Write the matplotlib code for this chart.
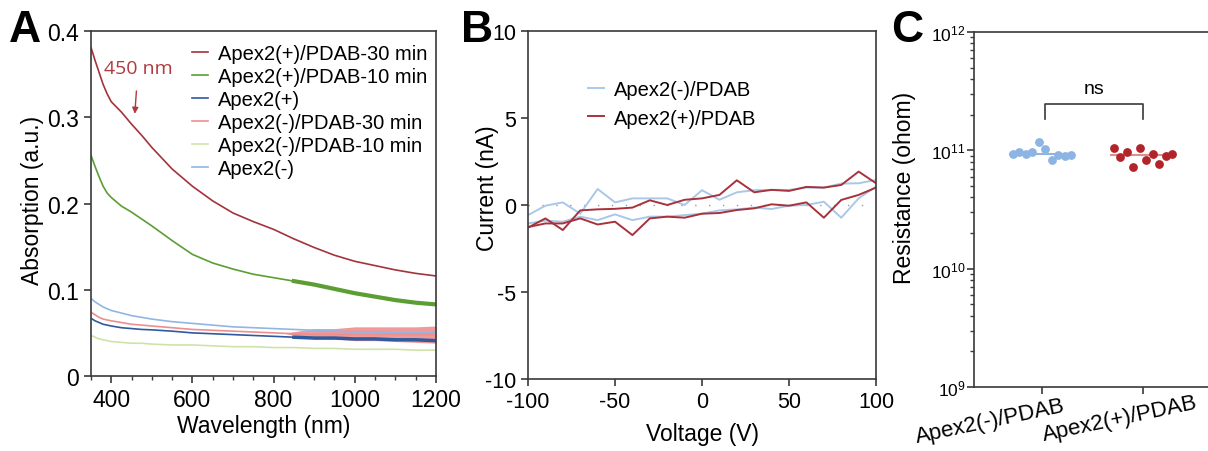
import numpy as np
import matplotlib
matplotlib.use("Agg")
import matplotlib.pyplot as plt
import matplotlib.transforms as mtransforms
from matplotlib.ticker import FixedLocator, LogLocator, NullFormatter

plt.rcParams["font.family"] = ["Liberation Sans", "DejaVu Sans"]
plt.rcParams["mathtext.fontset"] = "custom"
plt.rcParams["mathtext.rm"] = "Liberation Sans"
plt.rcParams["mathtext.it"] = "Liberation Sans"
plt.rcParams["axes.unicode_minus"] = False

# ---------- panel A data : absorption spectra ----------
wavelength = [350, 360, 370, 380, 390, 400, 425, 450, 475, 500, 550, 600, 650, 700,
              750, 800, 850, 900, 950, 1000, 1050, 1100, 1150, 1200]
pos_pdab_30 = [0.381, 0.366, 0.352, 0.338, 0.327, 0.318, 0.306, 0.292, 0.279, 0.265,
               0.240, 0.220, 0.203, 0.189, 0.179, 0.170, 0.159, 0.149, 0.140, 0.133,
               0.128, 0.123, 0.119, 0.116]
pos_pdab_10 = [0.256, 0.243, 0.231, 0.220, 0.212, 0.207, 0.197, 0.190, 0.182, 0.174,
               0.157, 0.141, 0.131, 0.124, 0.118, 0.114, 0.110, 0.106, 0.101, 0.096,
               0.092, 0.088, 0.085, 0.083]
pos_only = [0.067, 0.064, 0.062, 0.060, 0.059, 0.058, 0.056, 0.055, 0.054, 0.0535,
            0.052, 0.050, 0.049, 0.048, 0.047, 0.046, 0.045, 0.044, 0.044, 0.043,
            0.043, 0.042, 0.042, 0.041]
neg_pdab_30 = [0.074, 0.071, 0.068, 0.066, 0.065, 0.064, 0.062, 0.060, 0.059, 0.058,
               0.056, 0.054, 0.053, 0.052, 0.051, 0.050, 0.049, 0.048, 0.048, 0.048,
               0.048, 0.048, 0.048, 0.048]
neg_pdab_10 = [0.047, 0.045, 0.043, 0.042, 0.041, 0.040, 0.039, 0.038, 0.038, 0.037,
               0.036, 0.036, 0.035, 0.034, 0.034, 0.033, 0.033, 0.032, 0.032, 0.031,
               0.031, 0.031, 0.030, 0.030]
neg_only = [0.090, 0.086, 0.083, 0.080, 0.078, 0.076, 0.073, 0.070, 0.068, 0.066,
            0.063, 0.061, 0.059, 0.057, 0.056, 0.055, 0.054, 0.053, 0.052, 0.051,
            0.051, 0.050, 0.050, 0.050]
# noisy tail of the Apex2(-)/PDAB-30 min trace (envelope)
noise_wl = [830, 900, 950, 1000, 1050, 1100, 1150, 1200]
noise_lo = [0.049, 0.043, 0.043, 0.041, 0.041, 0.040, 0.039, 0.038]
noise_hi = [0.050, 0.055, 0.055, 0.057, 0.057, 0.057, 0.057, 0.058]

# ---------- panel B data : I-V sweeps ----------
voltage = [-100, -90, -80, -70, -60, -50, -40, -30, -20, -10, 0,
           10, 20, 30, 40, 50, 60, 70, 80, 90, 100]
neg_iv_up = [-0.58, -0.04, 0.15, -0.50, 0.92, 0.15, 0.38, 0.38, 0.38, 0.0, 0.85,
             0.30, 0.73, 0.85, 0.87, 0.87, 1.0, 1.0, 1.23, 1.25, 1.44]
neg_iv_down = [-1.06, -0.90, -0.96, -0.67, -0.87, -0.54, -0.87, -0.67, -0.67, -0.58, -0.50,
               -0.31, -0.25, -0.15, -0.23, -0.04, 0.0, 0.19, -0.73, 0.38, 1.06]
pos_iv_up = [-1.30, -0.77, -1.44, -0.31, -0.25, -0.22, -0.15, 0.27, 0.0, 0.30, 0.38,
             0.58, 1.42, 0.73, 0.87, 0.81, 1.04, 1.0, 1.15, 1.92, 1.25]
pos_iv_down = [-1.27, -1.06, -1.06, -0.77, -1.12, -0.96, -1.73, -0.77, -0.67, -0.73, -0.50,
               -0.46, -0.29, -0.19, 0.04, -0.04, 0.15, -0.73, 0.29, 0.58, 1.0]

# ---------- panel C data : resistance ----------
groups = ["Apex2(-)/PDAB", "Apex2(+)/PDAB"]
res_neg = [0.93e11, 0.97e11, 0.93e11, 0.96e11, 1.17e11, 1.03e11, 0.83e11, 0.91e11, 0.90e11, 0.91e11]
res_pos = [1.05e11, 0.88e11, 0.97e11, 0.73e11, 1.04e11, 0.83e11, 0.93e11, 0.77e11, 0.90e11, 0.94e11]

SPINE = "#3a3a3a"
LABEL_FS = 16.5

fig = plt.figure(figsize=(12.08, 4.52), dpi=100)


def style_axes(ax, tick_fs):
    for s in ax.spines.values():
        s.set_color(SPINE)
        s.set_linewidth(1.2)
    ax.tick_params(direction="out", colors=SPINE, labelcolor="black",
                   labelsize=tick_fs, width=1.2, length=5)
    ax.tick_params(which="minor", direction="out", colors=SPINE, width=1.0, length=3)


# ---------- A ----------
axA = fig.add_axes([0.0753, 0.1659, 0.2856, 0.7633])
style_axes(axA, 16.5)
wl = np.array(wavelength)
axA.plot(wl, pos_pdab_30, color="#a3343a", lw=1.2, label="Apex2(+)/PDAB-30 min")
axA.plot(wl, pos_pdab_10, color="#5c9e34", lw=1.2, label="Apex2(+)/PDAB-10 min")
tail = wl >= 850
axA.plot(wl[tail], np.array(pos_pdab_10)[tail], color="#5c9e34", lw=3.0)
axA.plot(wl, neg_only, color="#92b6e4", lw=1.2, label="Apex2(-)")
axA.plot(wl, neg_pdab_10, color="#cfe3a8", lw=1.2, label="Apex2(-)/PDAB-10 min")
axA.plot(wl, neg_pdab_30, color="#ee8e8e", lw=1.2, label="Apex2(-)/PDAB-30 min")
axA.fill_between(noise_wl, noise_lo, noise_hi, color="#ee8e8e", lw=0, alpha=0.9)
axA.plot(wl, pos_only, color="#2f5a9e", lw=1.2, label="Apex2(+)")
axA.plot(wl[tail], np.array(pos_only)[tail], color="#2f5a9e", lw=2.5)
axA.set_xlim(350, 1200)
axA.set_ylim(0, 0.4)
axA.set_xticks([400, 600, 800, 1000, 1200])
axA.xaxis.set_minor_locator(FixedLocator(np.arange(350, 1201, 50)))
axA.set_yticks([0, 0.1, 0.2, 0.3, 0.4])
axA.set_yticklabels(["0", "0.1", "0.2", "0.3", "0.4"])
axA.set_xlabel("Wavelength (nm)", fontsize=LABEL_FS, labelpad=2)
axA.set_ylabel("Absorption (a.u.)", fontsize=LABEL_FS)
axA.yaxis.set_label_coords(-0.136, 0.513)
h, l = axA.get_legend_handles_labels()
order = ["Apex2(+)/PDAB-30 min", "Apex2(+)/PDAB-10 min", "Apex2(+)",
         "Apex2(-)/PDAB-30 min", "Apex2(-)/PDAB-10 min", "Apex2(-)"]
hd = dict(zip(l, h))
axA.legend([hd[k] for k in order], order, loc="upper left", bbox_to_anchor=(0.255, 1.0),
           frameon=False, fontsize=14.5, handlelength=0.8, handletextpad=0.5,
           labelspacing=0.2, borderaxespad=0.25)
axA.annotate("450 nm", xy=(458, 0.304), xytext=(466, 0.357), color="#b03a3e",
             fontsize=14, family=["Open Sans", "DejaVu Sans"], ha="center", va="center",
             arrowprops=dict(arrowstyle="-|>", color="#b03a3e", lw=1.0,
                             mutation_scale=9, shrinkA=8, shrinkB=0))

# ---------- B ----------
axB = fig.add_axes([0.4371, 0.1593, 0.2881, 0.7699])
style_axes(axB, 15.5)
axB.axhline(0, color="#9a9a9a", lw=1.0, ls=(0, (1, 9)))
axB.plot(voltage, neg_iv_up, color="#a9c8e8", lw=1.4, label="Apex2(-)/PDAB")
axB.plot(voltage, neg_iv_down, color="#a9c8e8", lw=1.4)
axB.plot(voltage, pos_iv_up, color="#a8323c", lw=1.4, label="Apex2(+)/PDAB")
axB.plot(voltage, pos_iv_down, color="#a8323c", lw=1.4)
axB.set_xlim(-100, 100)
axB.set_ylim(-10, 10)
axB.set_xticks([-100, -50, 0, 50, 100])
axB.set_yticks([-10, -5, 0, 5, 10])
axB.set_xlabel("Voltage (V)", fontsize=LABEL_FS, labelpad=7)
axB.set_ylabel("Current (nA)", fontsize=LABEL_FS)
axB.yaxis.set_label_coords(-0.083, 0.552)
axB.legend(loc="upper left", bbox_to_anchor=(0.12, 0.91), frameon=False, fontsize=14.5,
           handlelength=0.8, handletextpad=0.5, labelspacing=0.45)

# ---------- C ----------
axC = fig.add_axes([0.8063, 0.1416, 0.197, 0.7854])
style_axes(axC, 15.5)
axC.spines["right"].set_visible(False)
axC.set_yscale("log")
axC.set_ylim(1e9, 1e12)
axC.set_xlim(-0.673, 1.683)
axC.yaxis.set_major_locator(FixedLocator([1e9, 1e10, 1e11, 1e12]))
axC.set_yticklabels([r"$10^{9}$", r"$10^{10}$", r"$10^{11}$", r"$10^{12}$"], fontsize=12.5)
axC.yaxis.set_minor_locator(LogLocator(base=10, subs=np.arange(2, 10)))
axC.yaxis.set_minor_formatter(NullFormatter())
axC.tick_params(axis="y", pad=1)
cols = ["#8db4e2", "#b2242a"]
med_cols = ["#8db4e2", "#d99090"]
for i, vals in enumerate([res_neg, res_pos]):
    xs = i + np.linspace(-0.29, 0.29, len(vals))
    axC.plot([i - 0.32, i + 0.31], [np.median(vals)] * 2, color=med_cols[i], lw=1.5, zorder=2)
    axC.scatter(xs, vals, s=40, color=cols[i], zorder=3, linewidths=0)
axC.set_xticks([0, 1])
axC.set_xticklabels(groups, fontsize=16, rotation=12, ha="right", rotation_mode="anchor")
for lab, dx, dy in zip(axC.get_xticklabels(), [21, 52], [4, 7]):
    lab.set_transform(lab.get_transform() + mtransforms.ScaledTranslation(dx / 100, dy / 100, fig.dpi_scale_trans))
axC.set_ylabel("Resistance (ohom)", fontsize=LABEL_FS)
axC.yaxis.set_label_coords(-0.244, 0.563)
# significance bracket
axC.plot([0.03, 0.03, 1.0, 1.0], [1.83e11, 2.48e11, 2.48e11, 1.83e11], color=SPINE, lw=1.2)
axC.text(0.52, 3.3e11, "ns", ha="center", va="center", fontsize=14)

# panel letters
for x, letter in [(9, "A"), (461, "B"), (891, "C")]:
    fig.text(x / 1208, 1 - 42 / 452, letter, fontsize=32, fontweight="bold", va="baseline")

fig.savefig("out.png", dpi=100)
